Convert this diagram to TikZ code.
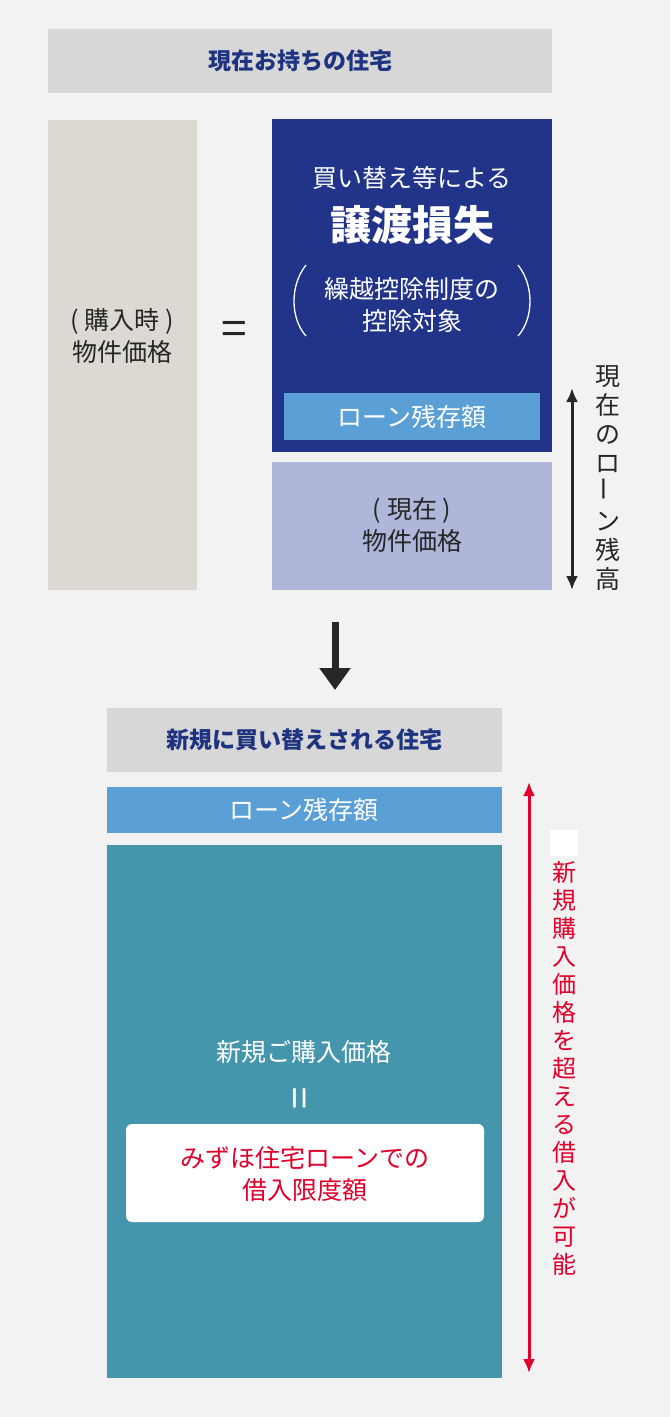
\documentclass[tikz,border=0pt]{standalone}
\usepackage{fontspec}
\usetikzlibrary{arrows.meta}
\setmainfont{Noto Sans CJK JP}
\definecolor{bg}{HTML}{F2F2F2}
\definecolor{hdg}{HTML}{D7D7D7}
\definecolor{nv}{HTML}{21348A}
\definecolor{tan}{HTML}{DCD9D2}
\definecolor{lb}{HTML}{5A9FD6}
\definecolor{lav}{HTML}{AEB6DA}
\definecolor{teal}{HTML}{4596AC}
\definecolor{rd}{HTML}{E0002B}
\definecolor{htxt}{HTML}{1F3480}
\begin{document}
\begin{tikzpicture}[x=1pt,y=-1pt,
 t/.style={font=\fontsize{25}{32}\selectfont,align=center},
 hdt/.style={font=\fontsize{23}{28}\selectfont\bfseries,text=htxt},
 dbl/.style={line width=3,{Latex[length=14,width=12]}-{Latex[length=14,width=12]}}]
\fill[bg] (0,0) rectangle (670,1417);
\useasboundingbox (0,0) rectangle (670,1417);
\fill[hdg] (48,29) rectangle (552,93);
\node[hdt] (h1) at (300,61) {現在お持ちの住宅};
\fill[tan] (48,120) rectangle (197,590);
\node[t,text=black!85] (p1) at (122,336) {( 購入時 )\\物件価格};
\node[font=\fontsize{46}{46}\selectfont,text=black!85] (eq) at (234,333) {=};
\fill[nv] (272,119) rectangle (552,452);
\node[t,text=white] (a) at (412,178) {買い替え等による};
\node[font=\fontsize{41}{44}\selectfont\bfseries,text=white] (b) at (412,225) {譲渡損失};
\node[t,text=white] (c) at (412,305) {繰越控除制度の\\控除対象};
\draw[white,line width=1.3] (306,265) .. controls (290,285) and (290,318) .. (306,336);
\draw[white,line width=1.3] (518,265) .. controls (534,285) and (534,318) .. (518,336);
\fill[lb] (284,393) rectangle (540,440);
\node[t,text=white] (l1) at (412,417) {ローン残存額};
\fill[lav] (272,462) rectangle (552,590);
\node[t,text=black!85] (p2) at (412,525) {( 現在 )\\物件価格};
\coordinate (u1) at (572,388); \coordinate (d1) at (572,590);
\draw[black!85,dbl] (u1) -- (d1);
\node[t,text=black!85,font=\fontsize{25}{29}\selectfont] (v1) at (608,478) {現\\在\\の\\ロ\\\rotatebox{90}{ー}\\ン\\残\\高};
\coordinate (a1) at (335,622); \coordinate (a2) at (335,690);
\draw[black!85,line width=7,-{Triangle[length=22,width=30]}] (a1) -- (a2);
\fill[hdg] (107,708) rectangle (502,772);
\node[hdt] (h2) at (304,740) {新規に買い替えされる住宅};
\fill[lb] (107,787) rectangle (502,833);
\node[t,text=white] (l2) at (304,810) {ローン残存額};
\fill[teal] (107,845) rectangle (502,1378);
\node[t,text=white] (n1) at (304,1052) {新規ご購入価格};
\node[text=white,font=\fontsize{40}{40}\selectfont] (eq2) at (304,1098) {\rotatebox{90}{=}};
\fill[white,rounded corners=6] (126,1124) rectangle (484,1222);
\node[t,text=rd] (m) at (305,1174) {みずほ住宅ローンでの\\借入限度額};
\coordinate (u2) at (529,782); \coordinate (d2) at (529,1373);
\draw[rd,dbl] (u2) -- (d2);
\fill[white] (550,830) rectangle (578,856);
\node[t,text=rd,font=\fontsize{24}{28}\selectfont,anchor=north] (v2) at (564,858) {新\\規\\購\\入\\価\\格\\を\\超\\え\\る\\借\\入\\が\\可\\能};
\end{tikzpicture}
\end{document}
